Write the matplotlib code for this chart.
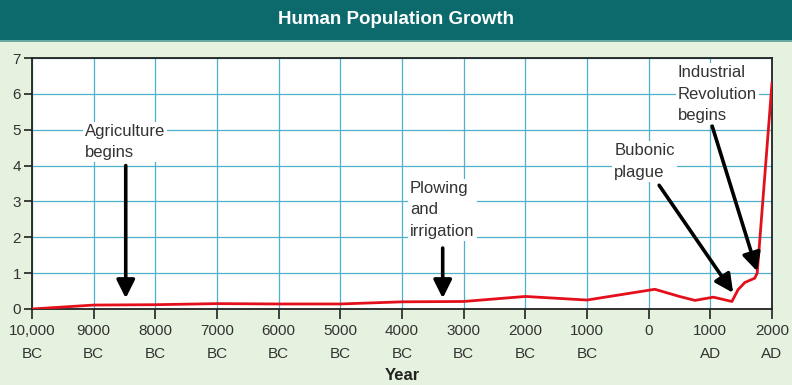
import matplotlib
matplotlib.use("Agg")
import matplotlib.pyplot as plt
from matplotlib.patches import Rectangle

# Data (years: negative = BC, billions of people)
years = [-10000, -9000, -8000, -7000, -6000, -5000, -4000, -3000, -2000,
         -1000, 100, 500, 750, 1050, 1350, 1450, 1560, 1720, 1760, 2000]
population = [0.0, 0.11, 0.12, 0.15, 0.14, 0.14, 0.2, 0.21, 0.35,
              0.25, 0.55, 0.35, 0.24, 0.33, 0.21, 0.54, 0.74, 0.86, 1.0, 6.3]

xtick_values = [-10000, -9000, -8000, -7000, -6000, -5000, -4000, -3000,
                -2000, -1000, 0, 1000, 2000]
xtick_labels = ["10,000\nBC", "9000\nBC", "8000\nBC", "7000\nBC", "6000\nBC",
                "5000\nBC", "4000\nBC", "3000\nBC", "2000\nBC", "1000\nBC",
                "0\n ", "1000\nAD", "2000\nAD"]
ytick_values = [0, 1, 2, 3, 4, 5, 6, 7]

title = "Human Population Growth"
xlabel = "Year"

# annotations: text, text position (x, y), arrow start, arrow tip
annotations = [
    ("Agriculture\nbegins", (-9140, 5.17), (-8480, 4.0), (-8480, 0.3)),
    ("Plowing\nand\nirrigation", (-3870, 3.58), (-3340, 1.7), (-3340, 0.3)),
    ("Bubonic\nplague", (-560, 4.62), (170, 3.45), (1370, 0.45)),
    ("Industrial\nRevolution\nbegins", (475, 6.8), (1030, 5.1), (1760, 1.05)),
]

W, H = 792, 385
fig = plt.figure(figsize=(W / 100, H / 100), dpi=100)
fig.patch.set_facecolor("#e5f2df")

# title band
band_h = 40
fig.patches.append(Rectangle((0, 1 - band_h / H), 1, band_h / H,
                             transform=fig.transFigure, facecolor="#0c6a6c",
                             edgecolor="none", zorder=0))
fig.patches.append(Rectangle((0, 1 - (band_h + 1.5) / H), 1, 1.5 / H,
                             transform=fig.transFigure, facecolor="#6aa8a6",
                             edgecolor="none", zorder=0))
fig.text(0.5, 1 - 20 / H, title, ha="center", va="center", color="white",
         fontsize=13.5, fontweight="bold", family="Liberation Sans")

left, right, top, bottom = 32, 772, 58, 309
ax = fig.add_axes([left / W, 1 - bottom / H, (right - left) / W, (bottom - top) / H])
ax.set_facecolor("white")

ax.set_xlim(-10000, 2000)
ax.set_ylim(0, 7)
ax.set_xticks(xtick_values)
ax.set_xticklabels(xtick_labels)
ax.set_yticks(ytick_values)
ax.grid(True, color="#4fb0cc", linewidth=0.9, zorder=0)
ax.set_axisbelow(True)

for s in ax.spines.values():
    s.set_color("#222222")
    s.set_linewidth(1.3)

ax.tick_params(axis="both", colors="#222222", width=1.2, length=6,
               labelcolor="#333333", labelsize=11)
ax.tick_params(axis="x", pad=4, length=7)
ax.tick_params(axis="y", pad=2)
for lbl in ax.get_xticklabels() + ax.get_yticklabels():
    lbl.set_family("Liberation Sans")
    lbl.set_linespacing(1.8)

ax.plot(years, population, color="#e3101c", linewidth=2.0, zorder=3,
        solid_joinstyle="round")

for text, tpos, start, tip in annotations:
    ax.text(tpos[0], tpos[1], text, ha="left", va="top", fontsize=12,
            color="#333333", family="Liberation Sans", linespacing=1.55,
            bbox=dict(facecolor="white", edgecolor="none", pad=1.5), zorder=4)
    ax.annotate("", xy=tip, xytext=start,
                arrowprops=dict(arrowstyle="-|>,head_width=0.55,head_length=1.1",
                                color="black", lw=2.6, shrinkA=0, shrinkB=0),
                zorder=5)

fig.text((left + right) / 2 / W, 1 - 376 / H, xlabel, ha="center", va="center",
         fontsize=12, fontweight="bold", color="#222222", family="Liberation Sans")

fig.savefig("out.png", dpi=100, facecolor=fig.get_facecolor())
